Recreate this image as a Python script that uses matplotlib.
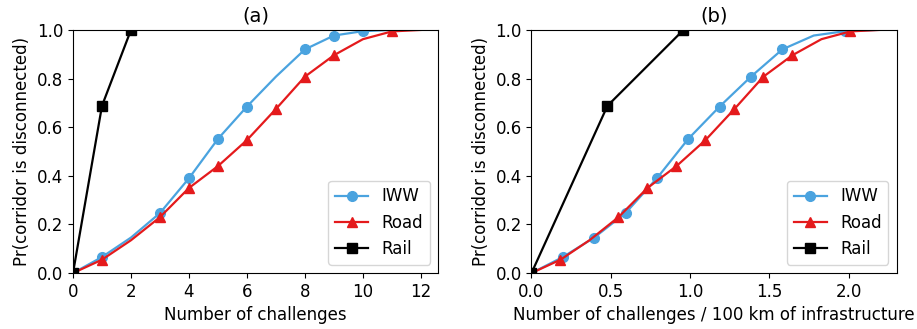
import numpy as np
import matplotlib
matplotlib.use('Agg')
import matplotlib.pyplot as plt

# number of challenges
n_iww = np.arange(0, 12)
n_road = np.arange(0, 13)
n_rail = np.arange(0, 3)

# Pr(corridor is disconnected)
p_iww = [0.0, 0.066, 0.146, 0.247, 0.39, 0.552, 0.685, 0.808, 0.92, 0.977, 0.995, 1.0]
p_road = [0.0, 0.055, 0.135, 0.23, 0.35, 0.44, 0.547, 0.675, 0.808, 0.896, 0.962, 0.994, 1.0]
p_rail = [0.0, 0.688, 1.0]

# challenges per 100 km of infrastructure
d_iww = n_iww * 0.1977
d_road = n_road * 0.1828
d_rail = n_rail * 0.479

blue = '#4aa3df'
red = '#e41a1c'

plt.rcParams['font.size'] = 12

fig, axes = plt.subplots(1, 2, figsize=(9.17, 3.29), dpi=100)
fig.subplots_adjust(left=0.0796, right=0.978, bottom=0.17, top=0.909, wspace=0.255)

panels = [
    (axes[0], n_iww, n_road, n_rail, '(a)', 'Number of challenges'),
    (axes[1], d_iww, d_road, d_rail, '(b)', 'Number of challenges / 100 km of infrastructure'),
]

for ax, x_iww, x_road, x_rail, title, xlabel in panels:
    ax.plot(x_iww, p_iww, '-o', color=blue, label='IWW', markevery=0.1, markersize=7, lw=1.6)
    ax.plot(x_road, p_road, '-^', color=red, label='Road', markevery=0.1, markersize=7, lw=1.6)
    ax.plot(x_rail, p_rail, '-s', color='black', label='Rail', markevery=0.1, markersize=7, lw=1.6)
    ax.set_xlim(left=0)
    ax.set_ylim(0, 1)
    ax.set_title(title, fontsize=14)
    ax.set_xlabel(xlabel)
    ax.set_ylabel('Pr(corridor is disconnected)')
    ax.legend(loc='lower right')

axes[0].set_xticks([0, 2, 4, 6, 8, 10, 12])
axes[1].set_xticks([0.0, 0.5, 1.0, 1.5, 2.0])

plt.savefig('out.png')
